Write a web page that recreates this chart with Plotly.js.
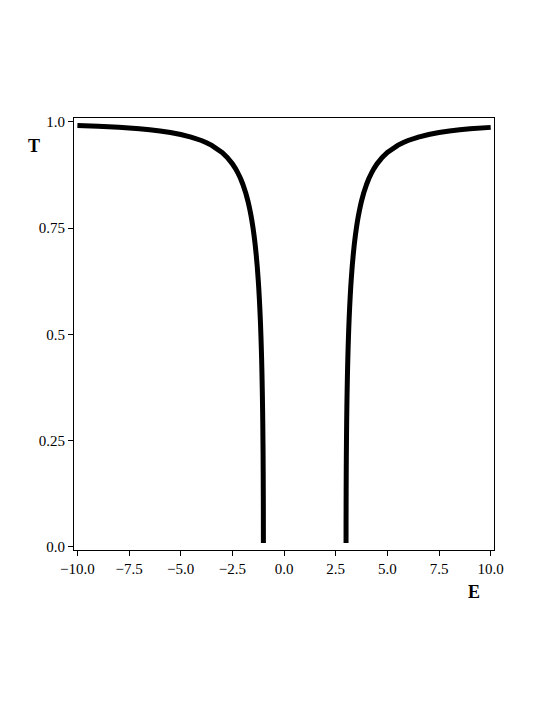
<!DOCTYPE html>
<html>
<head>
<meta charset="utf-8">
<script src="https://cdn.plot.ly/plotly-3.0.1.min.js"></script>
<style>html,body{margin:0;padding:0;background:#fff;}#plot{width:545px;height:705px;}</style>
</head>
<body>
<div id="plot"></div>
<script>
// Left branch (E < -1)
const leftE = [-10, -9, -8, -7, -6.5, -6, -5.5, -5, -4.5, -4, -3.75, -3.5, -3, -2.75, -2.5, -2.35, -2.25, -2.1, -2, -1.85, -1.75, -1.7, -1.65, -1.6, -1.55, -1.5, -1.45, -1.4, -1.35, -1.3, -1.25, -1.225, -1.2, -1.175, -1.15, -1.135, -1.12, -1.1, -1.09, -1.075, -1.065, -1.05, -1.04, -1.03, -1.02, -1.015, -1.01, -1.0075, -1.005, -1.003, -1.002, -1.001, -1.0005, -1.0001, -1.00002];
const leftT = [0.99160, 0.98979, 0.98734, 0.98387, 0.98156, 0.97871, 0.97514, 0.97056, 0.96456, 0.95644, 0.95125, 0.94504, 0.92820, 0.91652, 0.90149, 0.89026, 0.88157, 0.86624, 0.85410, 0.83206, 0.81401, 0.80368, 0.79231, 0.77972, 0.76571, 0.75, 0.73224, 0.71198, 0.68858, 0.66115, 0.62837, 0.60938, 0.58817, 0.56425, 0.53691, 0.51846, 0.49812, 0.46733, 0.44997, 0.42075, 0.39862, 0.36, 0.32924, 0.29247, 0.24619, 0.21714, 0.18120, 0.15899, 0.13185, 0.10375, 0.08555, 0.06128, 0.04373, 0.0198, 0.0089];
// Right branch (E > 3)
const rightE = [3.00002, 3.0001, 3.0005, 3.001, 3.002, 3.003, 3.005, 3.0075, 3.01, 3.015, 3.02, 3.03, 3.04, 3.05, 3.065, 3.075, 3.09, 3.1, 3.12, 3.135, 3.15, 3.175, 3.2, 3.225, 3.25, 3.3, 3.35, 3.4, 3.45, 3.5, 3.55, 3.6, 3.65, 3.7, 3.75, 3.85, 4, 4.1, 4.25, 4.35, 4.5, 4.75, 5, 5.5, 5.75, 6, 6.5, 7, 7.5, 8, 8.5, 9, 10];
const rightT = [0.0089, 0.0198, 0.04373, 0.06128, 0.08555, 0.10375, 0.13185, 0.15899, 0.18120, 0.21714, 0.24619, 0.29247, 0.32924, 0.36, 0.39862, 0.42075, 0.44997, 0.46733, 0.49812, 0.51846, 0.53691, 0.56425, 0.58817, 0.60938, 0.62837, 0.66115, 0.68858, 0.71198, 0.73224, 0.75, 0.76571, 0.77972, 0.79231, 0.80368, 0.81401, 0.83206, 0.85410, 0.86624, 0.88157, 0.89026, 0.90149, 0.91652, 0.92820, 0.94504, 0.95125, 0.95644, 0.96456, 0.97056, 0.97514, 0.97871, 0.98156, 0.98387, 0.98734];

const xTickVals = [-10, -7.5, -5, -2.5, 0, 2.5, 5, 7.5, 10];
const xTickText = ["\u221210.0", "\u22127.5", "\u22125.0", "\u22122.5", "0.0", "2.5", "5.0", "7.5", "10.0"];
const yTickVals = [0, 0.25, 0.5, 0.75, 1.0];
const yTickText = ["0.0", "0.25", "0.5", "0.75", "1.0"];

const fam = "Liberation Serif, Times New Roman, serif";
const font = {family: fam, size: 15, color: "#000"};
const lineStyle = {color: "#000", width: 5, simplify: false};

const traces = [
  {x: leftE, y: leftT, mode: "lines", line: lineStyle, hoverinfo: "skip"},
  {x: rightE, y: rightT, mode: "lines", line: lineStyle, hoverinfo: "skip"}
];

const layout = {
  width: 545, height: 705,
  margin: {l: 74, r: 51, t: 118, b: 155},
  paper_bgcolor: "#fff", plot_bgcolor: "#fff",
  showlegend: false,
  font: font,
  xaxis: {
    range: [-10.165, 10.16], tickvals: xTickVals, ticktext: xTickText,
    showgrid: false, zeroline: false, showline: true, linecolor: "#000", linewidth: 1,
    mirror: true, ticks: "outside", ticklen: 5, tickcolor: "#000", tickfont: font
  },
  yaxis: {
    range: [-0.0078, 1.0094], tickvals: yTickVals, ticktext: yTickText,
    showgrid: false, zeroline: false, showline: true, linecolor: "#000", linewidth: 1,
    mirror: true, ticks: "outside", ticklen: 5, tickcolor: "#000", tickfont: font
  },
  annotations: [
    {text: "<b>T</b>", xref: "paper", yref: "paper", x: -0.095, y: 0.935, xanchor: "center", yanchor: "middle", showarrow: false, font: {family: fam, size: 18, color: "#000"}},
    {text: "<b>E</b>", xref: "paper", yref: "paper", x: 0.952, y: -0.097, xanchor: "center", yanchor: "middle", showarrow: false, font: {family: fam, size: 18, color: "#000"}}
  ]
};

Plotly.newPlot("plot", traces, layout, {displayModeBar: false, staticPlot: true});
</script>
</body>
</html>
